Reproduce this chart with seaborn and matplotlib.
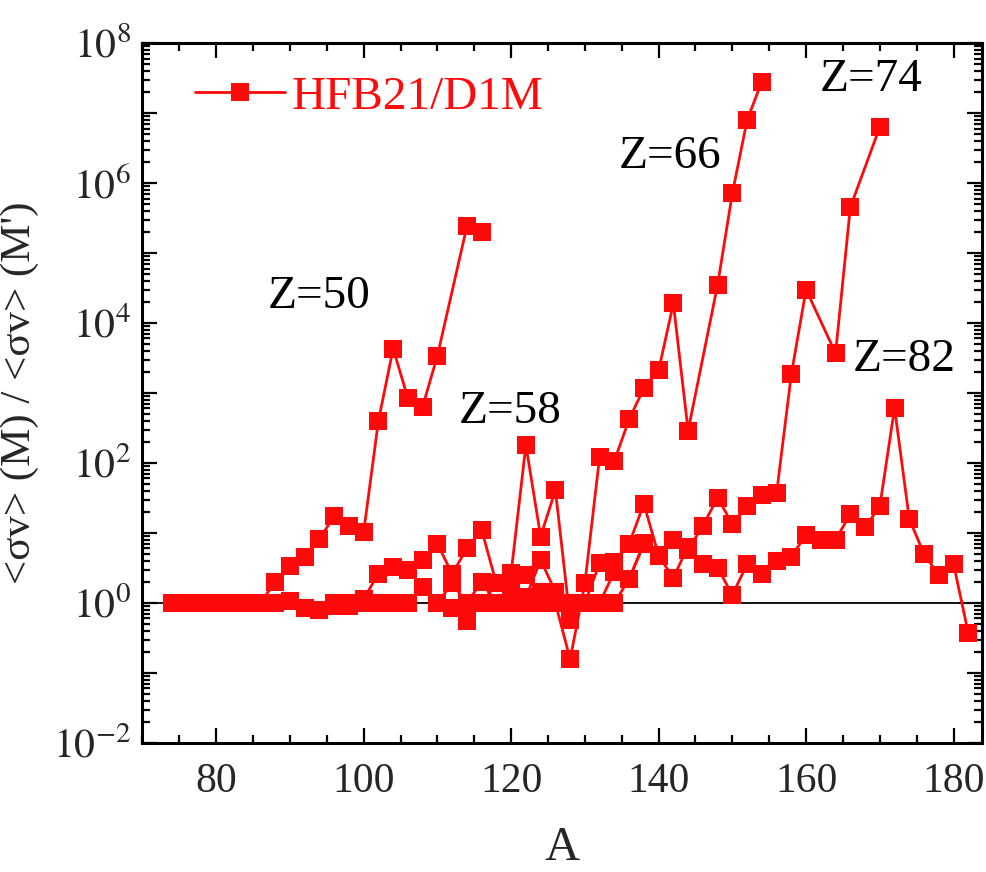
import numpy as np
import pandas as pd
import matplotlib
matplotlib.use("Agg")
import matplotlib.pyplot as plt
import matplotlib.ticker as mticker
import seaborn as sns

# Rate ratios along five isotopic chains (mass number A, ratio value)
a_z50 = [74, 76, 78, 80, 82, 84, 86, 88, 90, 92, 94, 96, 98, 100, 102, 104, 106, 108, 110, 114, 116]
r_z50 = [1.0, 1.0, 1.0, 1.0, 1.0, 1.0, 1.0, 2.0, 3.4, 4.5, 8.1, 17.6, 12.5, 10.3, 400, 4300, 840, 640, 3400, 2.4e5, 2.0e5]

a_z58 = [84, 86, 88, 90, 92, 94, 96, 98, 100, 102, 104, 106, 108, 110, 112, 114, 116, 118, 120, 122, 124, 126, 128, 130, 132, 134, 136, 138, 140]
r_z58 = [1.0, 1.0, 1.0, 1.05, 0.85, 0.8, 0.9, 0.9, 1.15, 2.6, 3.3, 3.0, 4.1, 7.0, 2.6, 6.0, 11, 1.9, 2.7, 180, 8.9, 41, 0.57, 1.0, 3.7, 3.9, 7.0, 26, 4.8]

a_z66 = [96, 98, 100, 102, 104, 106, 108, 110, 112, 114, 116, 118, 120, 122, 124, 126, 128, 130, 132, 134, 136, 138, 140, 142, 144, 148, 150, 152, 154]
r_z66 = [1.0, 1.0, 1.0, 1.0, 1.0, 1.0, 1.7, 1.0, 0.84, 0.55, 1.0, 1.9, 1.5, 2.5, 1.45, 1.0, 0.157, 1.9, 123, 107, 420, 1170, 2100, 1.9e4, 290, 3.5e4, 7.1e5, 7.9e6, 2.8e7]

a_z74 = [110, 112, 114, 116, 118, 120, 122, 124, 126, 128, 130, 132, 134, 136, 138, 140, 142, 144, 146, 148, 150, 152, 154, 156, 158, 160, 164, 166, 170]
r_z74 = [1.0, 1.9, 1.0, 2.0, 1.0, 1.0, 1.2, 4.1, 1.45, 1.0, 1.0, 1.0, 2.8, 2.2, 7.1, 4.7, 7.9, 5.8, 12.6, 32, 13.4, 24, 35, 37, 1850, 3.0e4, 3700, 4.5e5, 6.3e6]

a_z82 = [120, 122, 124, 126, 128, 130, 132, 134, 136, 138, 140, 142, 144, 146, 148, 150, 152, 154, 156, 158, 160, 162, 164, 166, 168, 170, 172, 174, 176, 178, 180, 182]
r_z82 = [1.0, 1.0, 1.0, 1.0, 1.0, 1.0, 1.0, 1.0, 2.2, 6.9, 4.7, 2.3, 6.4, 3.6, 3.2, 1.3, 3.6, 2.6, 4.0, 4.6, 9.4, 8.0, 8.0, 18.6, 12, 24, 610, 15.8, 5.0, 2.5, 3.6, 0.37]

chain_labels = ["Z=50", "Z=58", "Z=66", "Z=74", "Z=82"]
label_pos_a = [94.0, 119.8, 141.5, 168.8, 173.3]
label_pos_r = [2.4e4, 540, 2.4e6, 3.0e7, 3.0e3]

series_name = "HFB21/D1M"

chains = [(a_z50, r_z50), (a_z58, r_z58), (a_z66, r_z66), (a_z74, r_z74), (a_z82, r_z82)]
frames = []
for name, (a, r) in zip(chain_labels, chains):
    frames.append(pd.DataFrame({"A": a, "ratio": r, "chain": name}))
df = pd.concat(frames, ignore_index=True)

sns.set_style("ticks")
plt.rcParams["font.family"] = ["Liberation Serif", "DejaVu Serif"]
plt.rcParams["mathtext.fontset"] = "stix"

RED = "#ff0a0a"
MS = 12.3
LW = 2.0

fig = plt.figure(figsize=(9.86, 8.72), dpi=100)
ax = fig.add_axes([0.1445, 0.148, 0.851, 0.8027])

ax.axhline(1.0, color="black", lw=1.3, zorder=1)

sns.lineplot(data=df, x="A", y="ratio", units="chain", estimator=None, sort=False,
             color=RED, marker="s", markersize=MS, markeredgewidth=0,
             linewidth=LW, ax=ax, legend=False, zorder=3)

ax.set_yscale("log")
ax.set_xlim(70, 183.8)
ax.set_ylim(1e-2, 1e8)

ax.xaxis.set_major_locator(mticker.MultipleLocator(20))
ax.xaxis.set_minor_locator(mticker.MultipleLocator(5))
ax.yaxis.set_major_locator(mticker.LogLocator(base=10, numticks=20))
ax.yaxis.set_minor_locator(mticker.LogLocator(base=10, subs=np.arange(2, 10), numticks=20))


def fmt_log(v, pos):
    e = int(round(np.log10(v)))
    return r"$10^{%d}$" % e if e % 2 == 0 else ""


ax.yaxis.set_major_formatter(mticker.FuncFormatter(fmt_log))
ax.yaxis.set_minor_formatter(mticker.NullFormatter())

ax.tick_params(which="both", direction="in", top=True, right=True, width=1.6, color="black")
ax.tick_params(which="major", length=11, labelsize=30, pad=8)
ax.tick_params(axis="x", which="major", pad=14)
ax.tick_params(which="minor", length=6)
for s in ax.spines.values():
    s.set_linewidth(2.2)
    s.set_color("black")

ax.set_xlabel("A", fontsize=35, labelpad=18)
ax.set_ylabel("<σv> (M) / <σv> (M')", fontsize=31, labelpad=10)

for t, xa, yr in zip(chain_labels, label_pos_a, label_pos_r):
    ax.text(xa, yr, t, fontsize=34, ha="center", va="center", color="black")

handle = plt.Line2D([], [], color=RED, marker="s", markersize=MS, markeredgewidth=0, linewidth=LW)
leg = ax.legend([handle], [series_name], loc="upper left", bbox_to_anchor=(0.04, 0.98),
                frameon=False, fontsize=34, handlelength=1.9, handletextpad=0.15, borderaxespad=0)
for txt in leg.get_texts():
    txt.set_color(RED)

fig.savefig("out.png", dpi=100)
